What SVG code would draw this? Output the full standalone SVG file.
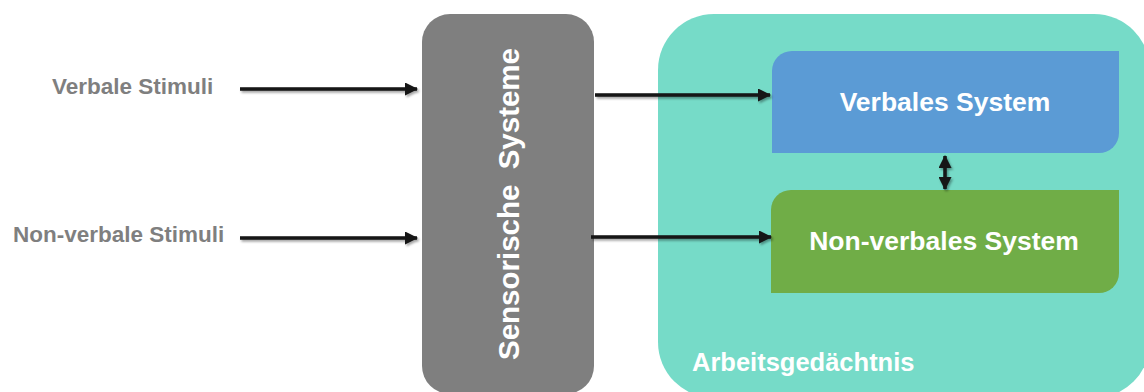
<svg xmlns="http://www.w3.org/2000/svg" width="1144" height="392" viewBox="0 0 1144 392">
  <style>
    .lbl { font-family: "Liberation Sans", Arial, sans-serif; font-weight: bold; }
    .in { fill: #7f7f7f; font-size: 22.5px; }
    .wt { fill: #ffffff; }
    .conn { stroke: #141414; stroke-width: 3.5; fill: none; }
  </style>
  <defs>
    <marker id="head" viewBox="0 0 13 13" refX="12" refY="6.5" markerWidth="13" markerHeight="13" markerUnits="userSpaceOnUse" orient="auto-start-reverse">
      <path d="M0,0 L13,6.5 L0,13 Z" fill="#141414"/>
    </marker>
    <filter id="shadow" x="-10%" y="-50%" width="120%" height="200%">
      <feDropShadow dx="1.5" dy="2" stdDeviation="1.2" flood-color="#000" flood-opacity="0.35"/>
    </filter>
  </defs>

  <rect width="1144" height="392" fill="#ffffff"/>

  <!-- working memory container -->
  <g id="arbeitsgedaechtnis">
    <rect x="658" y="14" width="492" height="384" rx="56" fill="#76dbc8"/>
    <text class="lbl wt" x="692" y="371" font-size="25.5">Arbeitsgedächtnis</text>
  </g>

  <!-- sensory systems -->
  <g id="sensorische-systeme">
    <rect x="422" y="14" width="172" height="380" rx="28" fill="#7f7f7f"/>
    <text class="lbl wt" font-size="29.5" word-spacing="7" text-anchor="middle" transform="translate(519,204) rotate(-90)">Sensorische Systeme</text>
  </g>

  <!-- verbal system -->
  <g id="verbales-system">
    <path d="M792,51 H1119 V133 A20,20 0 0 1 1099,153 H772 V71 A20,20 0 0 1 792,51 Z" fill="#5b9bd5"/>
    <text class="lbl wt" x="945" y="111" font-size="26.5" text-anchor="middle">Verbales System</text>
  </g>

  <!-- non-verbal system -->
  <g id="nonverbales-system">
    <path d="M791,190 H1119 V273 A20,20 0 0 1 1099,293 H771 V210 A20,20 0 0 1 791,190 Z" fill="#70ad47"/>
    <text class="lbl wt" x="944" y="250" font-size="26.5" text-anchor="middle">Non-verbales System</text>
  </g>

  <!-- stimulus labels -->
  <g id="verbale-stimuli">
    <text class="lbl in" x="52" y="94">Verbale Stimuli</text>
  </g>
  <g id="nonverbale-stimuli">
    <text class="lbl in" x="13" y="242">Non-verbale Stimuli</text>
  </g>

  <!-- connectors -->
  <g id="connectors" filter="url(#shadow)">
    <line class="conn" x1="240" y1="89" x2="417" y2="89" marker-end="url(#head)"/>
    <line class="conn" x1="240" y1="238" x2="417" y2="238" marker-end="url(#head)"/>
    <line class="conn" x1="595" y1="95" x2="770" y2="95" marker-end="url(#head)"/>
    <line class="conn" x1="591" y1="237" x2="771" y2="237" marker-end="url(#head)"/>
    <line class="conn" x1="945" y1="156" x2="945" y2="189" marker-start="url(#head)" marker-end="url(#head)"/>
  </g>
</svg>
